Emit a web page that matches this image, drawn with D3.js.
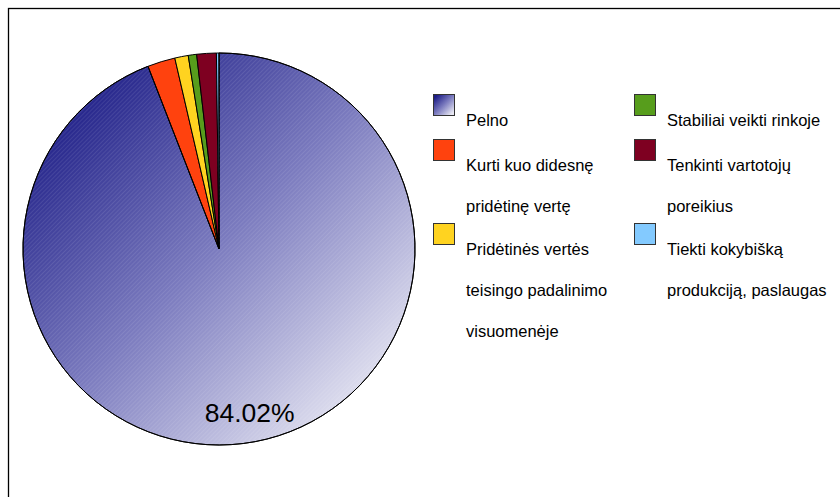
<!DOCTYPE html>
<html lang="lt">
<head>
<meta charset="utf-8">
<title>Pie chart</title>
<style>
    body { margin: 0; background: #fff; }
    svg text { font-family: "Liberation Sans", Arial, sans-serif; fill: #000; }
    .legend text { font-size: 16.5px; }
</style>
</head>
<body>
<svg width="840" height="497"></svg>
<script src="https://cdn.jsdelivr.net/npm/d3@7/dist/d3.min.js"></script>
<script>
    // data (share of the circle, %)
    const categories = ["Pelno", "Kurti kuo didesnę pridėtinę vertę", "Pridėtinės vertės teisingo padalinimo visuomenėje",
        "Stabiliai veikti rinkoje", "Tenkinti vartotojų poreikius", "Tiekti kokybišką produkciją, paslaugas"];
    const values = [94.1, 2.28, 1.11, 0.69, 1.61, 0.21];
    const colors = ["url(#pelnoGrad)", "#ff420e", "#ffd320", "#579d1c", "#7e0021", "#83caff"];
    const pieLabels = ["84.02%", "", "", "", "", ""];

    // legend lines (as wrapped in the chart)
    const legendLines = [
        ["Pelno"],
        ["Kurti kuo didesnę", "pridėtinę vertę"],
        ["Pridėtinės vertės", "teisingo padalinimo", "visuomenėje"],
        ["Stabiliai veikti rinkoje"],
        ["Tenkinti vartotojų", "poreikius"],
        ["Tiekti kokybišką", "produkciją, paslaugas"]
    ];

    const svg = d3.select("svg");

    // frame
    svg.append("rect")
        .attr("x", 8.5).attr("y", 8.5)
        .attr("width", 900).attr("height", 600)
        .attr("fill", "none").attr("stroke", "#000").attr("stroke-width", 1.3);

    const defs = svg.append("defs");
    const grad = defs.append("linearGradient")
        .attr("id", "pelnoGrad")
        .attr("x1", "10%").attr("y1", "10%").attr("x2", "90%").attr("y2", "90%");
    grad.append("stop").attr("offset", "0%").attr("stop-color", "#1c1c86");
    grad.append("stop").attr("offset", "50%").attr("stop-color", "#7c7cbf");
    grad.append("stop").attr("offset", "100%").attr("stop-color", "#e8e8f3");

    const hatch = defs.append("pattern")
        .attr("id", "hatch")
        .attr("patternUnits", "userSpaceOnUse")
        .attr("width", 3).attr("height", 3)
        .attr("patternTransform", "rotate(45)");
    hatch.append("line")
        .attr("x1", 0).attr("y1", 0).attr("x2", 0).attr("y2", 3)
        .attr("stroke", "#fff").attr("stroke-opacity", 0.18).attr("stroke-width", 1);

    const cx = 219, cy = 249, r = 196;

    const pie = d3.pie().sort(null).value(d => d);
    const arcs = pie(values);
    const arc = d3.arc().innerRadius(0).outerRadius(r);
    const labelArc = d3.arc().innerRadius(r * 0.85).outerRadius(r * 0.85);

    const g = svg.append("g").attr("transform", "translate(" + cx + "," + cy + ")");

    g.selectAll("path.slice")
        .data(arcs)
        .enter()
        .append("path")
        .attr("class", "slice")
        .attr("d", arc)
        .attr("fill", (d, i) => colors[i])
        .attr("stroke", "#000")
        .attr("stroke-width", 1);

    // hatch texture over the gradient slice
    g.append("path")
        .datum(arcs[0])
        .attr("d", arc)
        .attr("fill", "url(#hatch)")
        .attr("stroke", "#000")
        .attr("stroke-width", 1);

    g.selectAll("text.plabel")
        .data(arcs.filter((d, i) => pieLabels[i] !== ""))
        .enter()
        .append("text")
        .attr("class", "plabel")
        .attr("transform", d => "translate(" + labelArc.centroid(d) + ")")
        .attr("text-anchor", "middle")
        .attr("dy", "0.35em")
        .style("font-size", "26.5px")
        .text(d => pieLabels[d.index]);

    // legend
    const colX = [433, 634];
    const rowY = [94, 139, 223];
    const lineGap = 41;
    const legend = svg.append("g").attr("class", "legend");

    legendLines.forEach((lines, i) => {
        const col = Math.floor(i / 3), row = i % 3;
        const x = colX[col], y = rowY[row];
        legend.append("rect")
            .attr("x", x + 0.5).attr("y", y + 0.5)
            .attr("width", 21).attr("height", 21)
            .attr("fill", i === 0 ? "url(#pelnoGrad)" : colors[i])
            .attr("stroke", "#333").attr("stroke-width", 1);
        lines.forEach((t, j) => {
            legend.append("text")
                .attr("x", x + 33)
                .attr("y", y + 32 + j * lineGap)
                .text(t);
        });
    });
</script>
</body>
</html>
